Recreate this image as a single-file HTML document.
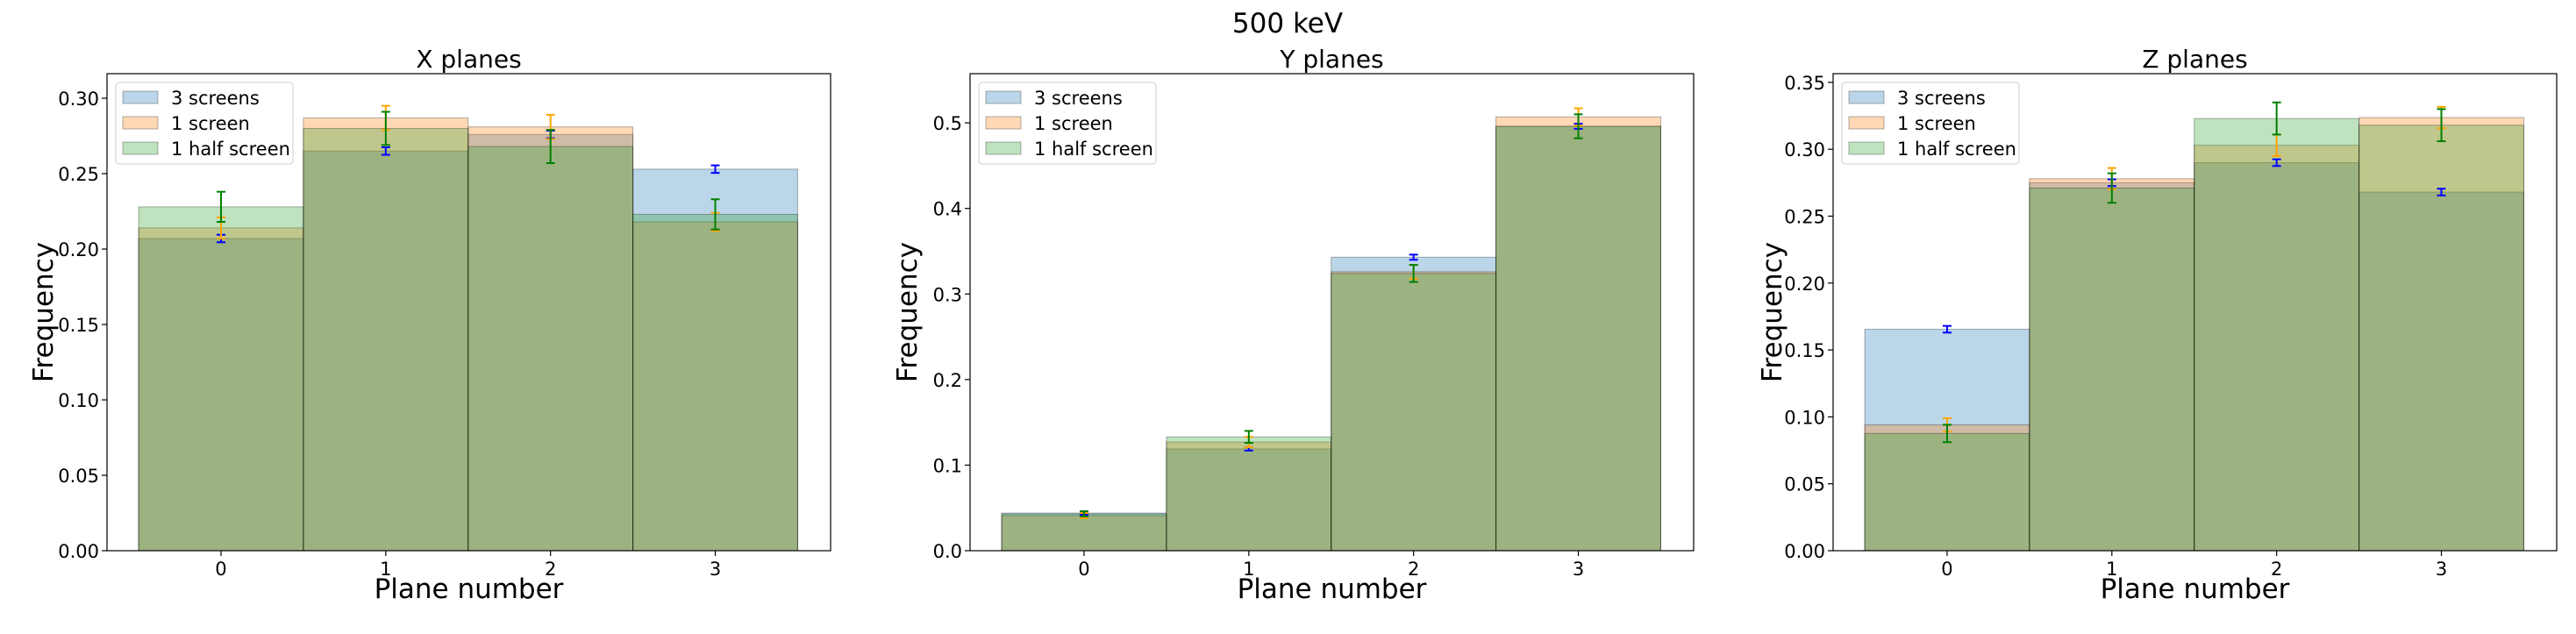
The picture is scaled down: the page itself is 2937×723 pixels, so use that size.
<!DOCTYPE html>
<html><head><meta charset="utf-8"><style>
body{margin:0;background:#fff;}
svg text{font-family:"DejaVu Sans","Liberation Sans",sans-serif;fill:#000;}
</style></head><body>
<svg id="fig" width="2937" height="718" xmlns="http://www.w3.org/2000/svg">
<text x="1468" y="37" font-size="31" text-anchor="middle">500 keV</text>
</svg>
<script>
const categories = [0, 1, 2, 3];
const seriesNames = ["3 screens", "1 screen", "1 half screen"];
const panelTitles = ["X planes", "Y planes", "Z planes"];
const xThree = [0.207, 0.265, 0.276, 0.253];
const xOne = [0.214, 0.287, 0.281, 0.218];
const xHalf = [0.228, 0.280, 0.268, 0.223];
const xErrThree = [0.0025, 0.0025, 0.0025, 0.0025];
const xErrOne = [0.007, 0.008, 0.008, 0.006];
const xErrHalf = [0.010, 0.011, 0.011, 0.010];
const yThree = [0.044, 0.119, 0.343, 0.496];
const yOne = [0.041, 0.127, 0.326, 0.507];
const yHalf = [0.043, 0.133, 0.324, 0.496];
const yErrThree = [0.002, 0.002, 0.003, 0.003];
const yErrOne = [0.003, 0.006, 0.008, 0.010];
const yErrHalf = [0.003, 0.007, 0.010, 0.014];
const zThree = [0.1655, 0.275, 0.290, 0.268];
const zOne = [0.094, 0.278, 0.303, 0.3237];
const zHalf = [0.0876, 0.271, 0.323, 0.318];
const zErrThree = [0.0025, 0.0025, 0.0025, 0.0025];
const zErrOne = [0.005, 0.008, 0.008, 0.008];
const zErrHalf = [0.0065, 0.011, 0.012, 0.012];
const xTicks = ["0.00","0.05","0.10","0.15","0.20","0.25","0.30"];
const yTicks = ["0.0","0.1","0.2","0.3","0.4","0.5"];
const zTicks = ["0.00","0.05","0.10","0.15","0.20","0.25","0.30","0.35"];
const yMaxes = [0.3163, 0.5575, 0.3565];

const NS = "http://www.w3.org/2000/svg";
const fig = document.getElementById("fig");
function mk(tag, attrs, parent){const e=document.createElementNS(NS,tag);for(const k in attrs)e.setAttribute(k,attrs[k]);(parent||fig).appendChild(e);return e;}

const fills = ["rgba(31,119,180,0.3)","rgba(255,127,14,0.3)","rgba(44,160,44,0.3)"];
const errCols = ["blue","orange","green"];
const panelLefts = [122, 1106, 2090];
const AW = 825, TOP = 84, BOT = 628;
const keys = ["x","y","z"];

function drawPanel(p, values, errs, ticks, ymax){
  const L = panelLefts[p];
  const g = mk("g", {});
  
  
  const xs = v => L + (v + 0.692) / 4.392 * AW;
  const ys = v => BOT - v / ymax * (BOT - TOP);
  values.forEach((arr, s) => {
    categories.forEach((c, i) => {
      const r = mk("rect", {x: xs(c - 0.5), y: ys(arr[i]), width: xs(c + 0.5) - xs(c - 0.5), height: ys(0) - ys(arr[i]), fill: fills[s], stroke: "rgba(0,0,0,0.3)", "stroke-width": 1}, g);
      
      
    });
  });
  values.forEach((arr, s) => {
    categories.forEach((c, i) => {
      const cx = xs(c), y1 = ys(arr[i] - errs[s][i]), y2 = ys(arr[i] + errs[s][i]);
      const eg = mk("g", {stroke: errCols[s], "stroke-width": 2}, g);
      
      
      mk("line", {x1: cx, x2: cx, y1: y1, y2: y2}, eg);
      mk("line", {x1: cx - 5, x2: cx + 5, y1: y1, y2: y1}, eg);
      mk("line", {x1: cx - 5, x2: cx + 5, y1: y2, y2: y2}, eg);
    });
  });
  const fr = mk("rect", {x: L, y: TOP, width: AW, height: BOT - TOP, fill: "none", stroke: "#000", "stroke-width": 1.2}, g);
  
  
  ticks.forEach(t => {
    const y = ys(parseFloat(t));
    mk("line", {x1: L - 6, x2: L, y1: y, y2: y, stroke: "#000", "stroke-width": 1.2}, g);
    const tx = mk("text", {x: L - 9, y: y + 8, "font-size": 21, "text-anchor": "end"}, g);
    tx.textContent = t;
    
    
  });
  categories.forEach(c => {
    const x = xs(c);
    mk("line", {x1: x, x2: x, y1: BOT, y2: BOT + 6, stroke: "#000", "stroke-width": 1.2}, g);
    const tx = mk("text", {x: x, y: BOT + 28, "font-size": 21, "text-anchor": "middle"}, g);
    tx.textContent = String(c);
    
    
  });
  const title = mk("text", {x: L + AW / 2, y: 77, "font-size": 28, "text-anchor": "middle"}, g);
  title.textContent = panelTitles[p];
  
  
  const xl = mk("text", {x: L + AW / 2, y: 682, "font-size": 31, "text-anchor": "middle"}, g);
  xl.textContent = "Plane number";
  
  
  const lx = [62, 61, 59][p];
  const yl = mk("text", {x: 0, y: 0, "font-size": 31, "text-anchor": "middle", transform: "translate(" + (L - lx) + "," + ((TOP + BOT) / 2) + ") rotate(-90)"}, g);
  yl.textContent = "Frequency";
  
  
  const lg = mk("g", {}, g);
  
  
  mk("rect", {x: L + 10, y: 94, width: 202, height: 93, rx: 4, fill: "rgba(255,255,255,0.8)", stroke: "#ccc", "stroke-width": 1}, lg);
  seriesNames.forEach((n, s) => {
    const cy = 111 + s * 29;
    const sw = mk("rect", {x: L + 18, y: cy - 7, width: 40, height: 14, fill: fills[s], stroke: "rgba(0,0,0,0.3)", "stroke-width": 1}, lg);
    
    
    const t = mk("text", {x: L + 73, y: cy + 8, "font-size": 21}, lg);
    t.textContent = n;
    
    
  });
}
drawPanel(0, [xThree, xOne, xHalf], [xErrThree, xErrOne, xErrHalf], xTicks, yMaxes[0]);
drawPanel(1, [yThree, yOne, yHalf], [yErrThree, yErrOne, yErrHalf], yTicks, yMaxes[1]);
drawPanel(2, [zThree, zOne, zHalf], [zErrThree, zErrOne, zErrHalf], zTicks, yMaxes[2]);
</script>
</body></html>
